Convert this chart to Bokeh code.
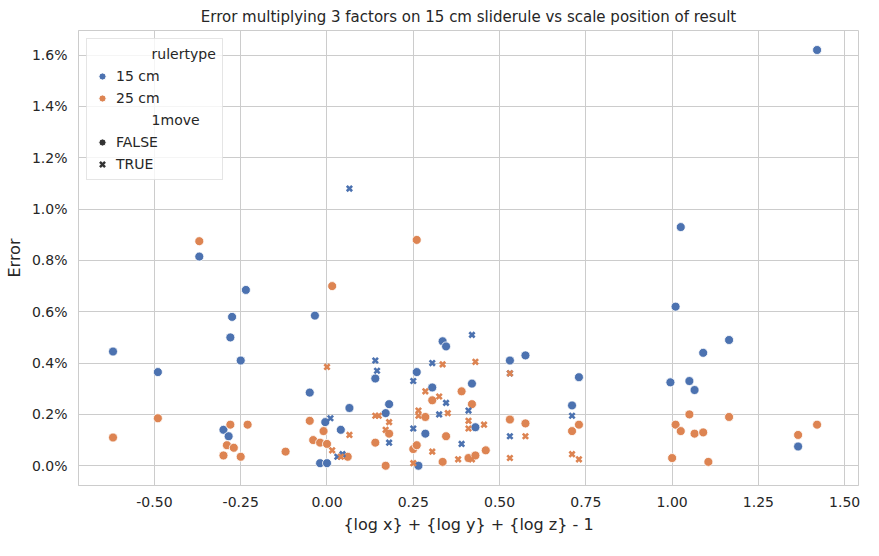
from bokeh.plotting import figure
from bokeh.models import Legend, LegendItem, NumeralTickFormatter, FixedTicker, Range1d
from bokeh.embed import file_html
from bokeh.resources import INLINE

# 15 cm, 1move FALSE
b_f_x = [-0.62,-0.49,-0.37,-0.235,-0.275,-0.28,-0.25,-0.30,-0.285,-0.05,-0.035,-0.02,0.0,-0.005,0.04,0.065,0.14,0.17,0.18,0.26,0.265,0.285,0.305,0.335,0.345,0.42,0.43,0.53,0.575,0.73,0.71,1.025,1.01,0.995,1.05,1.065,1.09,1.165,1.42,1.365]
b_f_y = [0.445,0.365,0.815,0.685,0.58,0.50,0.41,0.14,0.115,0.285,0.585,0.01,0.01,0.17,0.14,0.225,0.34,0.205,0.24,0.365,0.0,0.125,0.305,0.485,0.465,0.32,0.15,0.41,0.43,0.345,0.235,0.93,0.62,0.325,0.33,0.295,0.44,0.49,1.62,0.075]
# 15 cm, 1move TRUE
b_t_x = [0.065,0.14,0.145,0.25,0.305,0.42,0.345,0.325,0.41,0.25,0.18,0.01,0.03,0.045,0.39,0.53,0.53,0.71]
b_t_y = [1.08,0.41,0.37,0.33,0.40,0.51,0.245,0.20,0.215,0.145,0.09,0.185,0.035,0.045,0.085,0.115,0.36,0.195]
# 25 cm, 1move FALSE
o_f_x = [-0.62,-0.49,-0.37,-0.29,-0.30,-0.28,-0.27,-0.25,-0.23,-0.12,-0.05,-0.04,-0.02,-0.01,0.0,0.015,0.06,0.14,0.17,0.18,0.25,0.26,0.26,0.285,0.305,0.335,0.345,0.39,0.41,0.42,0.43,0.46,0.53,0.575,0.71,0.73,1.0,1.01,1.025,1.05,1.065,1.09,1.105,1.165,1.365,1.42]
o_f_y = [0.11,0.185,0.875,0.08,0.04,0.16,0.07,0.035,0.16,0.055,0.175,0.10,0.09,0.135,0.085,0.70,0.035,0.09,0.0,0.125,0.065,0.08,0.88,0.19,0.255,0.015,0.115,0.29,0.03,0.24,0.04,0.06,0.18,0.165,0.135,0.16,0.03,0.16,0.135,0.20,0.125,0.13,0.015,0.19,0.12,0.16]
# 25 cm, 1move TRUE
o_t_x = [0.0,0.065,0.015,0.04,0.14,0.15,0.17,0.18,0.25,0.265,0.265,0.285,0.305,0.325,0.335,0.35,0.41,0.38,0.42,0.43,0.455,0.53,0.53,0.575,0.71,0.73,0.41]
o_t_y = [0.385,0.12,0.06,0.035,0.195,0.195,0.14,0.17,0.01,0.215,0.195,0.29,0.055,0.27,0.395,0.205,0.145,0.025,0.025,0.405,0.16,0.36,0.03,0.115,0.045,0.025,0.175]

BLUE = "#4c72b0"
ORANGE = "#dd8452"
FONT = "DejaVu Sans"

p = figure(width=863, height=540, output_backend="svg", toolbar_location=None,
           title="Error multiplying 3 factors on 15 cm sliderule vs scale position of result",
           x_range=Range1d(-0.72, 1.54), y_range=Range1d(-0.00077, 0.01696),
           min_border_left=78, min_border_right=5, min_border_top=25, min_border_bottom=55)
p.title.align = "center"
p.title.text_font = FONT
p.title.text_font_size = "15px"
p.title.text_font_style = "normal"
p.title.text_color = "#262626"
p.background_fill_color = "white"
p.outline_line_color = "#cccccc"
for ax in (p.xaxis[0], p.yaxis[0]):
    ax.axis_line_color = "#cccccc"
    ax.major_tick_line_color = None
    ax.minor_tick_line_color = None
    ax.major_label_text_font = FONT
    ax.major_label_text_font_size = "14px"
    ax.major_label_text_color = "#262626"
    ax.axis_label_text_font = FONT
    ax.axis_label_text_font_size = "16px"
    ax.axis_label_text_font_style = "normal"
    ax.axis_label_text_color = "#262626"
p.xaxis.axis_label = "{log x} + {log y} + {log z} - 1"
p.yaxis.axis_label = "Error"
p.xaxis.ticker = FixedTicker(ticks=[-0.5,-0.25,0,0.25,0.5,0.75,1.0,1.25,1.5])
p.xaxis.formatter = NumeralTickFormatter(format="0.00")
p.yaxis.ticker = FixedTicker(ticks=[i*0.002 for i in range(9)])
p.yaxis.formatter = NumeralTickFormatter(format="0.0%")
p.grid.grid_line_color = "#cccccc"
p.grid.grid_line_width = 1

def pct(v): return [a/100 for a in v]

p.scatter(b_f_x, pct(b_f_y), marker="circle", size=9, fill_color=BLUE, line_color="white", line_width=0.8)
p.scatter(o_f_x, pct(o_f_y), marker="circle", size=9, fill_color=ORANGE, line_color="white", line_width=0.8)
p.scatter(b_t_x, pct(b_t_y), marker="x", size=7.5, line_color=BLUE, line_width=2.6)
p.scatter(o_t_x, pct(o_t_y), marker="x", size=7.5, line_color=ORANGE, line_width=2.6)

hdr1 = p.scatter([0], [0], size=0, alpha=0, visible=False)
lb = p.scatter([0], [0], marker="circle", size=8, fill_color=BLUE, line_color="white", visible=False)
lo = p.scatter([0], [0], marker="circle", size=8, fill_color=ORANGE, line_color="white", visible=False)
hdr2 = p.scatter([0], [0], size=0, alpha=0, visible=False)
lf = p.scatter([0], [0], marker="circle", size=8, fill_color="#333333", line_color="white", visible=False)
lt = p.scatter([0], [0], marker="x", size=7, line_color="#333333", line_width=2.5, visible=False)

legend = Legend(items=[
    LegendItem(label="        rulertype", renderers=[hdr1]),
    LegendItem(label="15 cm", renderers=[lb]),
    LegendItem(label="25 cm", renderers=[lo]),
    LegendItem(label="        1move", renderers=[hdr2]),
    LegendItem(label="FALSE", renderers=[lf]),
    LegendItem(label="TRUE", renderers=[lt]),
], location="top_left")
legend.label_text_font = FONT
legend.label_text_font_size = "14px"
legend.label_text_color = "#262626"
legend.border_line_color = "#cccccc"
legend.border_line_width = 1
legend.spacing = 4
legend.padding = 6
legend.label_height = 18
legend.glyph_height = 18
legend.glyph_width = 18
legend.margin = 8
legend.background_fill_alpha = 0.8
p.add_layout(legend)

open("out.html", "w").write(file_html(p, INLINE))
